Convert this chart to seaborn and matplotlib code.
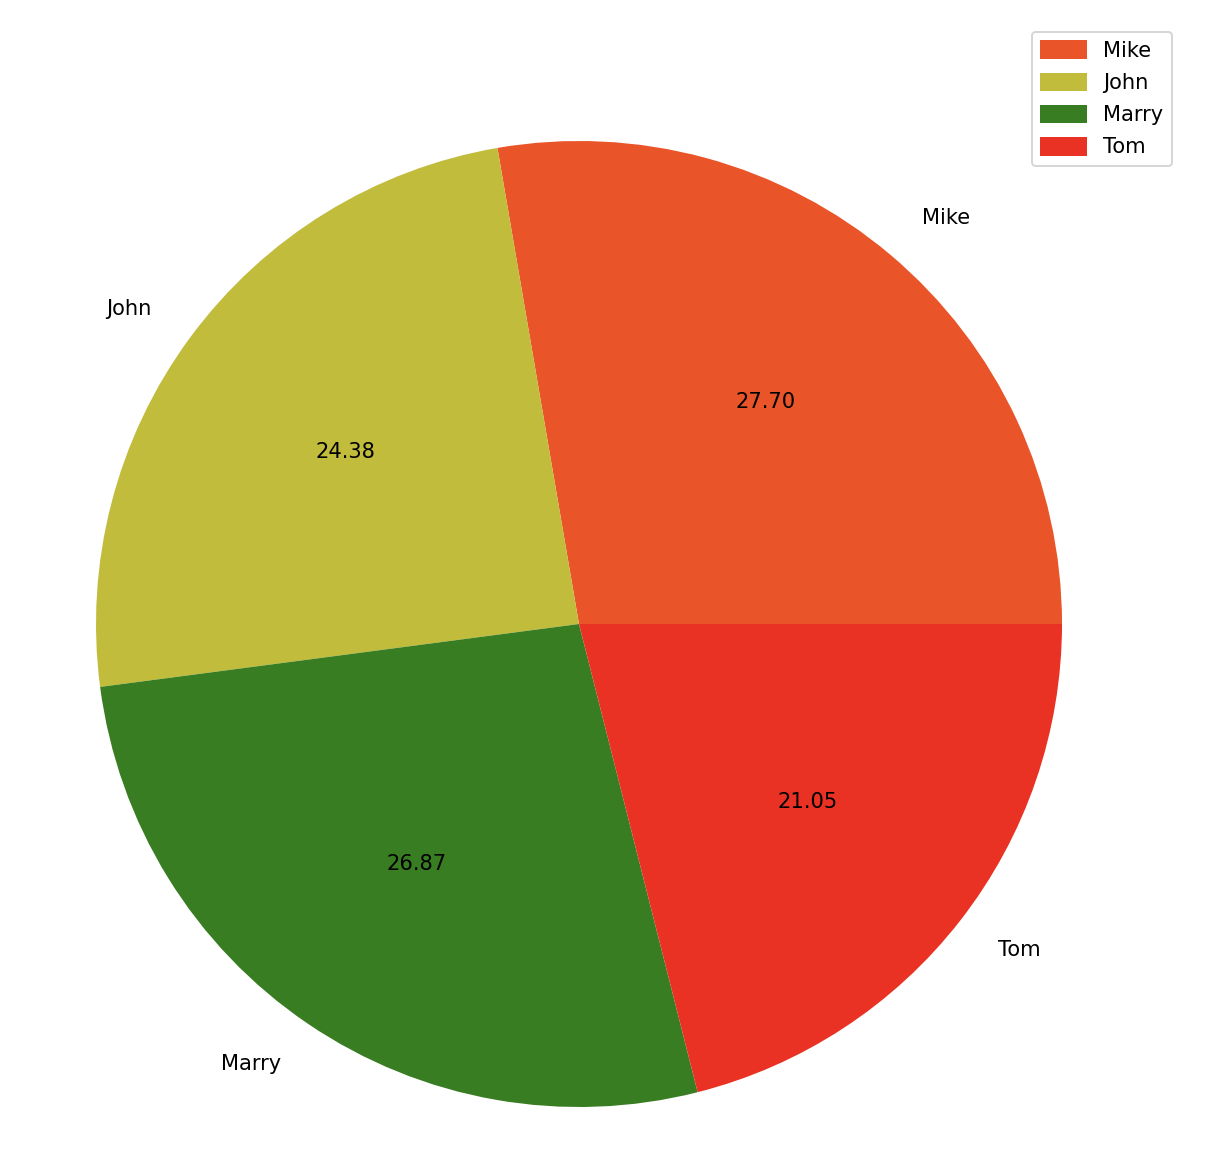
import seaborn as sns
import matplotlib.pyplot as plt

# данные
names = ['Mike', 'John', 'Marry', 'Tom']
shares = [27.70, 24.38, 26.87, 21.05]
colors = ['#E95428', '#C2BC3C', '#387D22', '#E93223']

sns.set_style("white")
plt.rcParams['text.color'] = 'black'
plt.rcParams['font.size'] = 10.5

fig = plt.figure(figsize=(1206 / 144, 1162 / 144), dpi=144)
ax = fig.add_axes([0, 0, 1, 1])

ax.pie(shares, labels=names, colors=colors, autopct='%.2f',
       wedgeprops={'linewidth': 0})
ax.set_xlim(-579 / 483, (1206 - 579) / 483)
ax.set_ylim(-(1162 - 624) / 483, 624 / 483)
ax.axis('off')

ax.legend(loc='upper right', bbox_to_anchor=(1172 / 1206, 1 - 32 / 1162),
          bbox_transform=fig.transFigure, borderaxespad=0,
          labelspacing=0.55, handlelength=2.2, handleheight=1.0)

plt.savefig('out.png', dpi=144)
